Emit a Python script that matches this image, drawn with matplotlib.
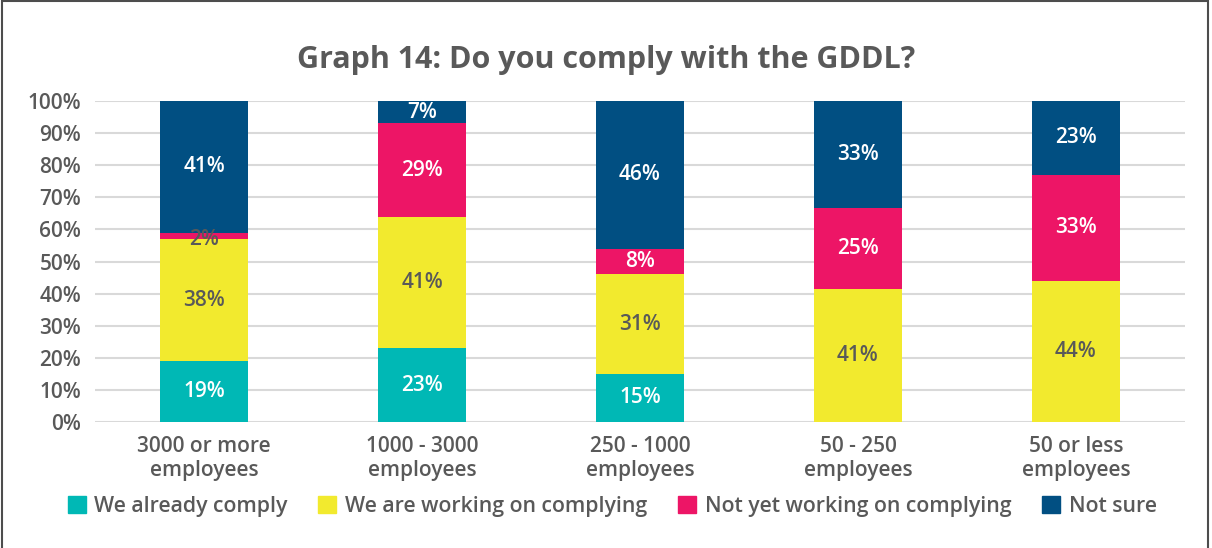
import matplotlib.pyplot as plt
import matplotlib.patches as mpatches
import numpy as np

plt.rcParams['font.family'] = ['Open Sans', 'DejaVu Sans']

categories = ['3000 or more\nemployees', '1000 - 3000\nemployees', '250 - 1000\nemployees',
              '50 - 250\nemployees', '50 or less\nemployees']
series = ['We already comply', 'We are working on complying',
          'Not yet working on complying', 'Not sure']
already = [19, 23, 15, 0, 0]
working = [38, 41, 31, 41, 44]
not_yet = [2, 29, 8, 25, 33]
not_sure = [41, 7, 46, 33, 23]

colors = ['#00B8B5', '#F2EA2E', '#ED1566', '#014F82']
label_colors = ['white', '#595959', 'white', 'white']
text_gray = '#595959'

values = np.array([already, working, not_yet, not_sure], dtype=float)
totals = values.sum(axis=0)
shares = values / totals * 100  # 100% stacked

fig = plt.figure(figsize=(12.12, 5.48), dpi=100)
fig.patch.set_facecolor('white')
ax = fig.add_axes([0.0784, 0.2299, 0.8993, 0.5858])

x = np.arange(len(categories))
bottom = np.zeros(len(categories))
for i, name in enumerate(series):
    ax.bar(x, shares[i], 0.40, bottom=bottom, color=colors[i], label=name, zorder=3)
    for j in range(len(categories)):
        v = values[i, j]
        if v > 0:
            c = label_colors[i]
            if v < 5:
                c = text_gray
            ax.text(x[j], bottom[j] + shares[i, j] / 2 - (1 if v < 5 else 0), f'{int(v)}%',
                    ha='center', va='center', fontsize=15, fontweight='semibold',
                    color=c, zorder=4)
    bottom += shares[i]

ax.set_xlim(-0.5, len(categories) - 0.5)
ax.set_ylim(0, 100)
ax.set_yticks(np.arange(0, 101, 10))
ax.set_yticklabels([f'{t}%' for t in range(0, 101, 10)])
ax.set_xticks(x)
ax.set_xticklabels(categories, linespacing=1.2)
ax.tick_params(axis='both', length=0, labelsize=15, labelcolor=text_gray)
ax.tick_params(axis='y', pad=10)
ax.tick_params(axis='x', pad=10)
for lab in ax.get_xticklabels() + ax.get_yticklabels():
    lab.set_fontweight('semibold')
ax.grid(axis='y', color='#D9D9D9', linewidth=1.5, zorder=0)
ax.set_axisbelow(True)
for s in ax.spines.values():
    s.set_visible(False)

fig.text(0.5, 0.89, 'Graph 14: Do you comply with the GDDL?', ha='center', va='center',
         fontsize=22, fontweight='bold', color=text_gray)

handles = [mpatches.Patch(color=c, label=s) for c, s in zip(colors, series)]
leg = fig.legend(handles=handles, loc='center', bbox_to_anchor=(0.505, 0.076), ncol=4,
                 frameon=False, fontsize=15.3, handlelength=0.85, handleheight=0.85,
                 handletextpad=0.4, columnspacing=1.45)
for t in leg.get_texts():
    t.set_color(text_gray)
    t.set_fontweight('semibold')

# outer border
fig.patches.append(mpatches.Rectangle((0.002, -0.01), 0.995, 1.008, transform=fig.transFigure,
                                      fill=False, edgecolor='#4D4D4D', linewidth=1.5))

plt.savefig('out.png', dpi=100, facecolor='white')
plt.close()
